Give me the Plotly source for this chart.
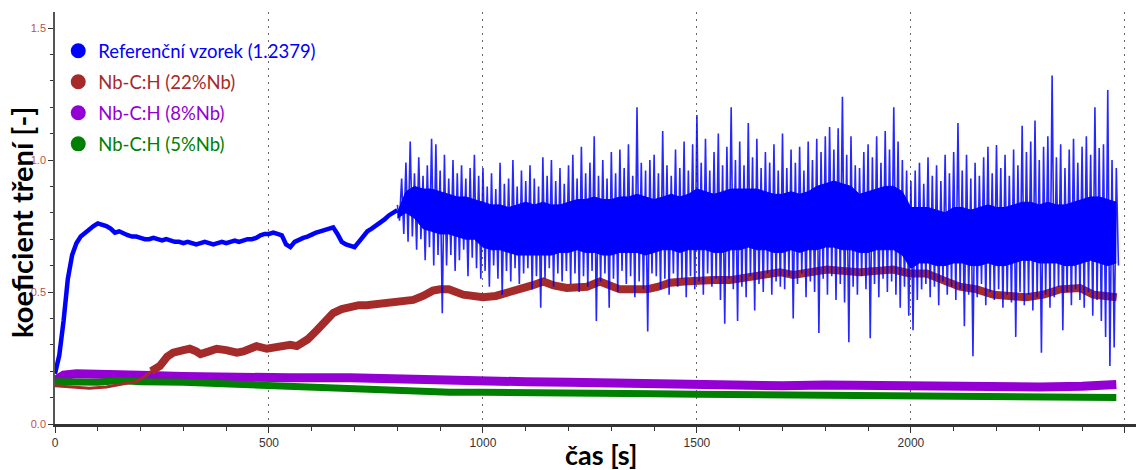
import numpy as np
import plotly.graph_objects as go

# ---------------- data ----------------
series_names = ["Referenční vzorek (1.2379)", "Nb-C:H (22%Nb)", "Nb-C:H (8%Nb)", "Nb-C:H (5%Nb)"]
series_colors = ["#0000ff", "#a52a2a", "#9400d3", "#008000"]

# reference sample, calm part, every 10 s from 0 to 800 s
blue_early_t = np.arange(0, 801, 10)
blue_early_v = [0.19, 0.26, 0.39, 0.55, 0.64, 0.685, 0.71, 0.725, 0.74, 0.75,
                0.76, 0.755, 0.75, 0.74, 0.725, 0.73, 0.72, 0.715, 0.71, 0.71,
                0.705, 0.70, 0.70, 0.705, 0.70, 0.695, 0.70, 0.695, 0.69, 0.69,
                0.685, 0.69, 0.685, 0.68, 0.685, 0.69, 0.685, 0.68, 0.685, 0.69,
                0.685, 0.69, 0.695, 0.69, 0.695, 0.70, 0.70, 0.705, 0.715, 0.72,
                0.72, 0.725, 0.72, 0.715, 0.68, 0.67, 0.69, 0.70, 0.705, 0.71,
                0.72, 0.725, 0.73, 0.735, 0.74, 0.745, 0.72, 0.69, 0.68, 0.675,
                0.67, 0.69, 0.71, 0.73, 0.74, 0.75, 0.76, 0.775, 0.79, 0.80,
                0.81]

# reference sample, noisy part: solid inner core every 20 s (800..2480 s)
blue_core_t = np.arange(800, 2481, 20)
blue_core_hi = [0.80, 0.88, 0.90, 0.89, 0.89, 0.88, 0.87, 0.86, 0.86, 0.85,
                0.84, 0.83, 0.83, 0.82, 0.83, 0.84, 0.83, 0.84, 0.83, 0.83,
                0.84, 0.85, 0.85, 0.86, 0.85, 0.85, 0.86, 0.86, 0.87, 0.86,
                0.85, 0.86, 0.87, 0.86, 0.87, 0.89, 0.88, 0.87, 0.88, 0.89,
                0.89, 0.89, 0.89, 0.88, 0.87, 0.87, 0.88, 0.87, 0.88, 0.90,
                0.91, 0.92, 0.91, 0.90, 0.87, 0.88, 0.89, 0.90, 0.90, 0.88,
                0.82, 0.82, 0.82, 0.81, 0.80, 0.82, 0.82, 0.81, 0.82, 0.83,
                0.82, 0.82, 0.83, 0.84, 0.84, 0.83, 0.84, 0.83, 0.83, 0.84,
                0.85, 0.86, 0.86, 0.85, 0.84]
blue_core_lo = [0.78, 0.80, 0.78, 0.74, 0.73, 0.72, 0.72, 0.71, 0.70, 0.70,
                0.67, 0.66, 0.66, 0.65, 0.64, 0.64, 0.64, 0.64, 0.64, 0.65,
                0.65, 0.66, 0.65, 0.65, 0.64, 0.64, 0.65, 0.65, 0.65, 0.64,
                0.65, 0.66, 0.66, 0.65, 0.66, 0.66, 0.66, 0.65, 0.65, 0.66,
                0.66, 0.67, 0.66, 0.66, 0.65, 0.65, 0.66, 0.65, 0.66, 0.66,
                0.67, 0.67, 0.66, 0.66, 0.65, 0.65, 0.66, 0.66, 0.66, 0.64,
                0.59, 0.61, 0.61, 0.60, 0.60, 0.61, 0.61, 0.60, 0.60, 0.61,
                0.60, 0.60, 0.61, 0.62, 0.62, 0.61, 0.61, 0.61, 0.60, 0.60,
                0.61, 0.62, 0.61, 0.60, 0.61]

# reference sample, noisy part: individual excursions every 5 s (800..2485 s)
blue_hair_t = np.arange(800, 2486, 5)
blue_hair_v = [
    0.83, 0.77, 0.93, 0.72, 0.99, 0.69, 1.07, 0.71, 0.95, 0.66, 1.01, 0.70, 0.94, 0.62, 0.98, 0.67, 1.08, 0.60, 1.06, 0.64,
    0.96, 0.42, 1.02, 0.60, 0.93, 0.64, 1.00, 0.58, 0.95, 0.62, 0.98, 0.66, 0.93, 0.56, 0.97, 0.63, 1.02, 0.59, 0.94, 0.55,
    0.97, 0.58, 0.90, 0.52, 0.95, 0.60, 0.89, 0.55, 0.99, 0.49, 0.91, 0.58, 0.93, 0.54, 1.00, 0.59, 0.90, 0.53, 0.96, 0.57,
    0.92, 0.59, 0.98, 0.51, 0.93, 0.56, 0.90, 0.44, 1.01, 0.55, 0.94, 0.59, 1.00, 0.52, 0.92, 0.57, 0.97, 0.54, 0.91, 0.58,
    0.98, 0.53, 1.02, 0.57, 0.93, 0.50, 1.05, 0.56, 0.95, 0.52, 0.99, 0.58, 1.09, 0.39, 0.94, 0.54, 1.00, 0.57, 0.93, 0.44,
    1.03, 0.55, 0.95, 0.50, 1.04, 0.58, 0.97, 0.53, 1.06, 0.56, 0.94, 0.48, 1.20, 0.54, 0.99, 0.51, 0.96, 0.35, 1.00, 0.57,
    1.02, 0.56, 0.95, 0.51, 1.11, 0.55, 0.98, 0.49, 0.94, 0.57, 1.04, 0.52, 0.97, 0.55, 1.07, 0.48, 0.96, 0.56, 1.06, 0.51,
    1.17, 0.54, 0.99, 0.49, 1.08, 0.57, 0.96, 0.52, 1.03, 0.55, 1.10, 0.47, 0.98, 0.38, 1.05, 0.55, 1.20, 0.51, 1.00, 0.39,
    1.07, 0.52, 0.98, 0.48, 1.14, 0.56, 1.01, 0.43, 1.08, 0.53, 0.97, 0.50, 1.03, 0.57, 0.99, 0.49, 1.06, 0.54, 0.96, 0.52,
    1.10, 0.51, 0.97, 0.56, 1.04, 0.40, 0.99, 0.53, 1.05, 0.57, 0.96, 0.48, 1.07, 0.54, 1.00, 0.50, 1.08, 0.345, 1.03, 0.55,
    1.09, 0.49, 1.125, 0.56, 1.04, 0.47, 1.12, 0.53, 1.24, 0.46, 1.02, 0.31, 1.09, 0.52, 0.98, 0.49, 0.97, 0.56, 1.03, 0.51,
    1.06, 0.325, 1.01, 0.53, 1.09, 0.48, 0.99, 0.55, 1.11, 0.50, 1.04, 0.54, 1.20, 0.49, 1.07, 0.44, 1.00, 0.52, 0.96, 0.41,
    0.92, 0.355, 0.96, 0.47, 0.99, 0.51, 0.91, 0.53, 1.01, 0.48, 0.94, 0.52, 0.98, 0.45, 0.92, 0.54, 1.02, 0.49, 0.95, 0.52,
    1.03, 0.47, 1.14, 0.51, 0.96, 0.37, 1.02, 0.49, 0.93, 0.257, 0.99, 0.48, 0.94, 0.53, 1.01, 0.45, 1.05, 0.50, 0.95, 0.47,
    1.057, 0.51, 0.97, 0.44, 1.02, 0.49, 0.94, 0.46, 1.04, 0.33, 0.98, 0.50, 1.13, 0.45, 1.03, 0.49, 1.07, 0.43, 1.15, 0.48,
    1.00, 0.27, 1.05, 0.49, 1.09, 0.44, 1.32, 0.48, 1.01, 0.52, 1.06, 0.355, 0.97, 0.50, 1.04, 0.45, 1.08, 0.51, 0.99, 0.47,
    1.05, 0.44, 1.09, 0.50, 1.02, 0.41, 1.20, 0.47, 1.045, 0.39, 1.06, 0.33, 1.265, 0.22, 1.00, 0.29, 0.97, 0.60,
]

# Nb-C:H (22%Nb)
brown_t = [0, 40, 80, 120, 150, 170, 190, 210, 225, 245, 262, 276, 300, 315, 330, 340, 360, 378, 400, 425,
           440, 455, 471, 495, 515, 533, 550, 565, 590, 612, 630, 650, 670, 689, 710, 728, 750, 766, 790, 806,
           837, 860, 883, 900, 920, 954, 980, 1000, 1030, 1055, 1080, 1094, 1115, 1141, 1165, 1196, 1220, 1243,
           1273, 1300, 1320, 1350, 1383, 1410, 1437, 1470, 1500, 1540, 1577, 1620, 1655, 1694, 1725, 1760, 1804,
           1840, 1881, 1920, 1958, 1998, 2037, 2075, 2114, 2154, 2192, 2230, 2270, 2310, 2348, 2395, 2426, 2455, 2481]
brown_v = [0.145, 0.14, 0.135, 0.14, 0.15, 0.155, 0.16, 0.18, 0.20, 0.22, 0.255, 0.27, 0.28, 0.285, 0.275, 0.265,
           0.275, 0.285, 0.28, 0.27, 0.275, 0.285, 0.295, 0.285, 0.29, 0.30, 0.30, 0.295, 0.32, 0.355, 0.39, 0.42, 0.435,
           0.445, 0.45, 0.45, 0.455, 0.46, 0.465, 0.47, 0.47, 0.485, 0.505, 0.51, 0.51, 0.49, 0.485, 0.48, 0.485,
           0.495, 0.505, 0.51, 0.525, 0.54, 0.525, 0.515, 0.515, 0.52, 0.54, 0.525, 0.51, 0.51, 0.51, 0.52, 0.535,
           0.54, 0.545, 0.545, 0.545, 0.555, 0.565, 0.575, 0.565, 0.575, 0.585, 0.58, 0.575, 0.58, 0.585, 0.57,
           0.57, 0.545, 0.52, 0.51, 0.49, 0.485, 0.48, 0.49, 0.51, 0.515, 0.49, 0.485, 0.48]

# Nb-C:H (8%Nb)
purple_t = [0, 20, 50, 100, 150, 200, 300, 400, 455, 550, 689, 800, 922, 1000, 1100, 1200, 1300, 1400, 1500,
            1600, 1700, 1800, 1900, 2000, 2100, 2200, 2300, 2400, 2480]
purple_v = [0.165, 0.185, 0.19, 0.19, 0.185, 0.185, 0.18, 0.175, 0.175, 0.175, 0.175, 0.17, 0.16, 0.16, 0.16,
            0.158, 0.155, 0.15, 0.15, 0.148, 0.145, 0.148, 0.145, 0.145, 0.142, 0.143, 0.14, 0.143, 0.15]

# Nb-C:H (5%Nb)
green_t = [0, 50, 100, 150, 200, 300, 455, 600, 689, 800, 922, 1000, 1100, 1200, 1300, 1400, 1500, 1600,
           1700, 1800, 1900, 2000, 2100, 2200, 2300, 2400, 2480]
green_v = [0.16, 0.16, 0.158, 0.165, 0.16, 0.158, 0.148, 0.14, 0.136, 0.128, 0.12, 0.12, 0.12, 0.118, 0.117,
           0.115, 0.113, 0.112, 0.11, 0.11, 0.108, 0.107, 0.102, 0.103, 0.102, 0.101, 0.10]

assert len(blue_early_v) == len(blue_early_t)
assert len(blue_core_hi) == len(blue_core_t) == len(blue_core_lo)
assert len(blue_hair_v) == len(blue_hair_t)
assert len(brown_v) == len(brown_t)
assert len(purple_v) == len(purple_t)
assert len(green_v) == len(green_t)

x_ticks = [0, 500, 1000, 1500, 2000, 2500]
y_ticks = [0.0, 0.5, 1.0, 1.5]
y_ticktext = ["0.0", "0.5", "1.0", "1.5"]

# ---------------- figure ----------------
BLUE, BROWN, PURPLE, GREEN = series_colors
fig = go.Figure()

fig.add_trace(go.Scatter(x=purple_t, y=purple_v, mode="lines", line=dict(color=PURPLE, width=9),
                         showlegend=False, hoverinfo="skip"))
fig.add_trace(go.Scatter(x=green_t, y=green_v, mode="lines", line=dict(color=GREEN, width=7),
                         showlegend=False, hoverinfo="skip"))
split = 9
fig.add_trace(go.Scatter(x=brown_t[:split], y=brown_v[:split], mode="lines", line=dict(color=BROWN, width=3),
                         showlegend=False, hoverinfo="skip"))
fig.add_trace(go.Scatter(x=brown_t[split - 1:], y=brown_v[split - 1:], mode="lines",
                         line=dict(color=BROWN, width=8), showlegend=False, hoverinfo="skip"))

fig.add_trace(go.Scatter(x=blue_early_t, y=blue_early_v, mode="lines", line=dict(color=BLUE, width=4.5),
                         showlegend=False, hoverinfo="skip"))
fig.add_trace(go.Scatter(x=blue_core_t, y=blue_core_lo, mode="lines", line=dict(color=BLUE, width=1),
                         showlegend=False, hoverinfo="skip"))
fig.add_trace(go.Scatter(x=blue_core_t, y=blue_core_hi, mode="lines", line=dict(color=BLUE, width=1),
                         fill="tonexty", fillcolor=BLUE, showlegend=False, hoverinfo="skip"))
fig.add_trace(go.Scatter(x=blue_hair_t, y=blue_hair_v, mode="lines",
                         line=dict(color="rgba(0,0,255,0.85)", width=1.6),
                         showlegend=False, hoverinfo="skip"))

# legend entries (round markers, coloured text)
for i, (nm, col) in enumerate(zip(series_names, series_colors)):
    fig.add_trace(go.Scatter(x=[None], y=[None], mode="markers",
                             marker=dict(color=col, size=15, symbol="circle"),
                             name=f"<span style='color:{col}'>{nm}</span>",
                             legendgroup=f"g{i}", showlegend=True))

fig.update_layout(
    width=1136, height=470,
    margin=dict(l=55, r=0, t=12, b=46),
    paper_bgcolor="white", plot_bgcolor="white",
    showlegend=True,
    legend=dict(x=0.003, y=0.951, xanchor="left", yanchor="top",
                bgcolor="rgba(0,0,0,0)", borderwidth=0,
                font=dict(family="Lato, Open Sans, sans-serif", size=18.5),
                traceorder="grouped", tracegroupgap=4, itemsizing="trace"),
    xaxis=dict(range=[0, 2526], tickvals=x_ticks, ticks="outside", ticklen=6, tickwidth=1,
               tickcolor="#333", showline=True, linecolor="#333", linewidth=2.5,
               showgrid=True, gridcolor="#666", griddash="2px,5px", gridwidth=1,
               zeroline=False,
               tickfont=dict(family="Liberation Sans Narrow, Liberation Sans, Arial", size=12, color="#333"),
               minor=dict(dtick=100, tick0=0, ticks="outside", ticklen=4, tickcolor="#333", showgrid=False)),
    yaxis=dict(range=[0, 1.5606], tickvals=y_ticks, ticktext=y_ticktext, ticks="outside", ticklen=5,
               tickcolor="#333", showline=True, linecolor="#555", linewidth=1.5,
               showgrid=False, zeroline=False,
               tickfont=dict(family="Liberation Sans Narrow, Liberation Sans, Arial", size=11, color="#c0504d"),
               minor=dict(dtick=0.1, tick0=0, ticks="outside", ticklen=3, tickcolor="#333", showgrid=False)),
    annotations=[
        dict(text="<b>koeficient tření [-]</b>", xref="paper", yref="paper", x=0, y=0.5,
             xanchor="center", yanchor="middle", xshift=-34, yshift=-5, textangle=-90, showarrow=False,
             font=dict(family="Lato, Open Sans, sans-serif", size=29, color="black")),
        dict(text="<b>čas [s]</b>", xref="paper", yref="paper", x=0.505, y=0,
             xanchor="center", yanchor="middle", yshift=-30, showarrow=False,
             font=dict(family="Lato, Open Sans, sans-serif", size=27, color="black")),
    ],
)

fig.write_html("out.html")
